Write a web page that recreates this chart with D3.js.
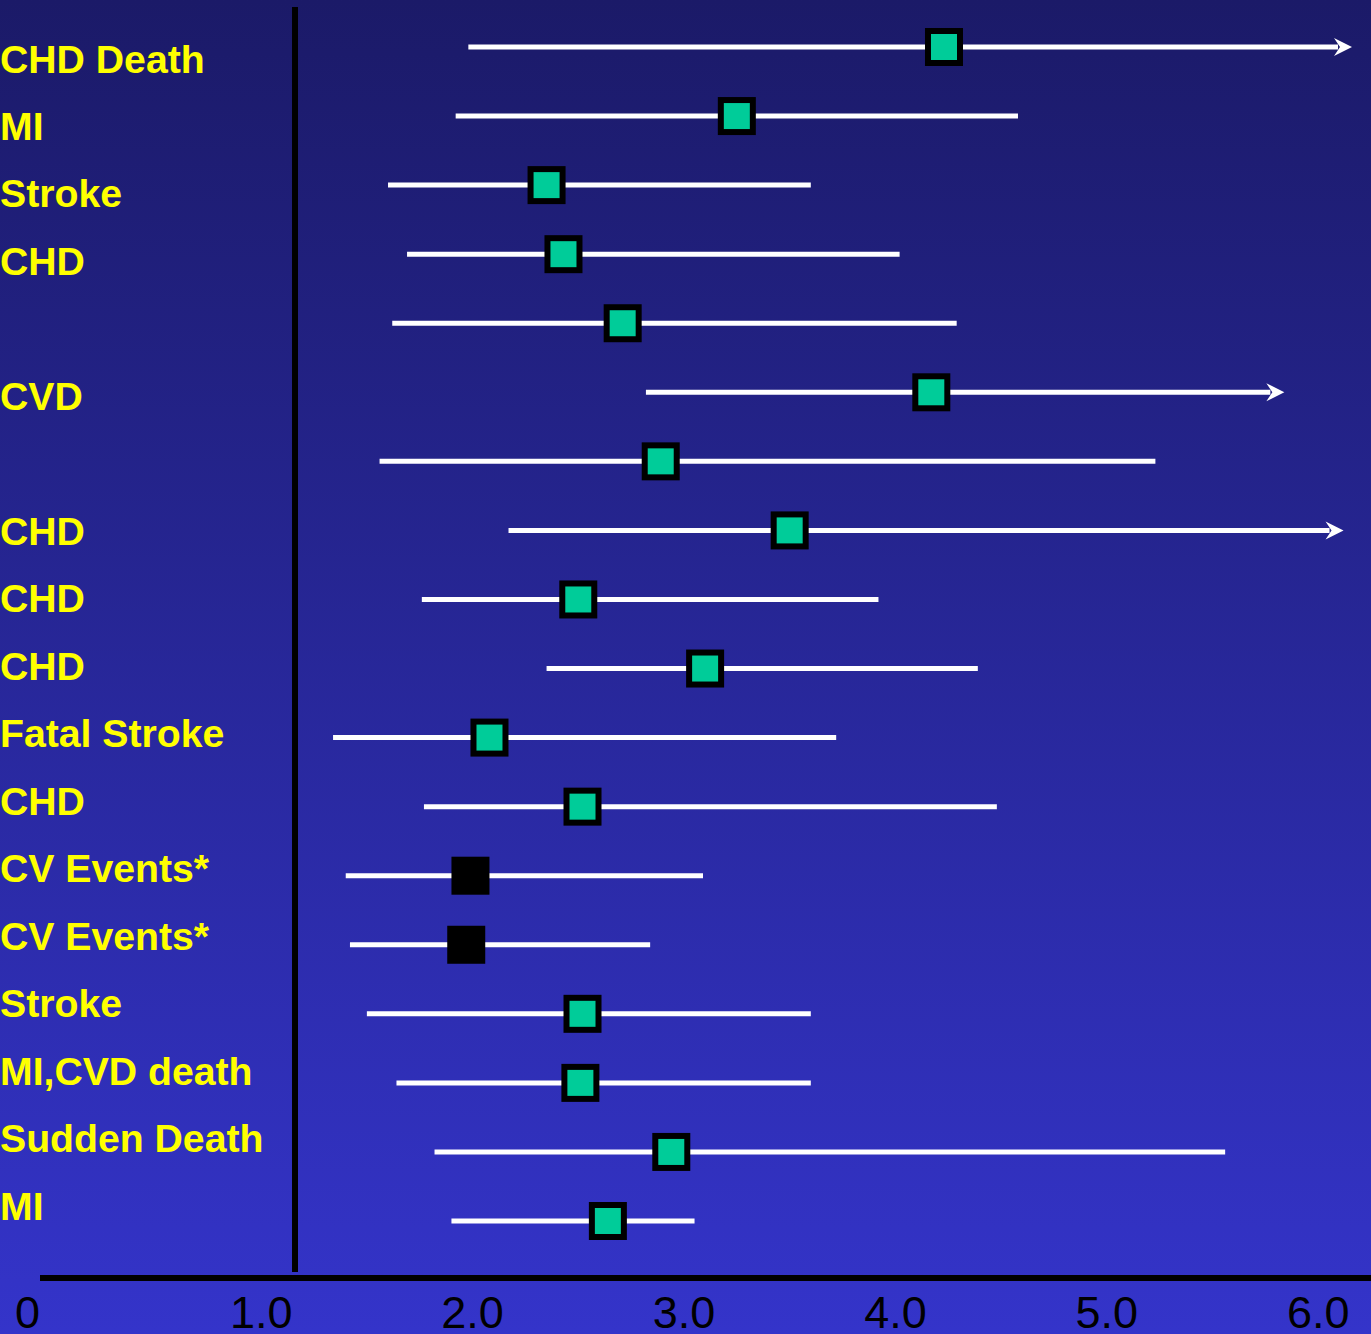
<!DOCTYPE html>
<html>
<head>
<meta charset="utf-8">
<script src="https://cdn.jsdelivr.net/npm/d3@7"></script>
<style>
  html, body { margin: 0; padding: 0; background: #26258f; }
  svg { display: block; }
</style>
</head>
<body>
<svg id="chart" width="1371" height="1334"></svg>
<script>
// ---- Data ----
const outcomeLabels = ["CHD Death", "MI", "Stroke", "CHD", "", "CVD", "", "CHD", "CHD", "CHD",
  "Fatal Stroke", "CHD", "CV Events*", "CV Events*", "Stroke", "MI,CVD death", "Sudden Death", "MI"];
const estimates = [4.07, 3.09, 2.19, 2.27, 2.55, 4.01, 2.73, 3.34, 2.34, 2.94, 1.92, 2.36, 1.83, 1.81, 2.36, 2.35, 2.78, 2.48];
const lowerCI   = [1.82, 1.76, 1.44, 1.53, 1.46, 2.66, 1.40, 2.01, 1.60, 2.19, 1.18, 1.61, 1.24, 1.26, 1.34, 1.48, 1.66, 1.74];
const upperCI   = [6.00, 4.42, 3.44, 3.86, 4.13, 5.68, 5.07, 5.96, 3.76, 4.23, 3.56, 4.32, 2.93, 2.68, 3.44, 3.44, 5.40, 2.89];
const openEnded = [true, false, false, false, false, true, false, true, false, false, false, false, false, false, false, false, false, false];
const markerKind = ["study", "study", "study", "study", "study", "study", "study", "study", "study", "study",
  "study", "study", "pooled", "pooled", "study", "study", "study", "study"];
const tickValues = [1, 2, 3, 4, 5, 6];
const tickLabels = ["1.0", "2.0", "3.0", "4.0", "5.0", "6.0"];
const originLabel = "0";

// ---- Drawing ----
const W = 1371, H = 1334;
const svg = d3.select("#chart");

const defs = svg.append("defs");
const grad = defs.append("linearGradient").attr("id", "bg").attr("x1", 0).attr("y1", 0).attr("x2", 0).attr("y2", 1);
grad.append("stop").attr("offset", "0%").attr("stop-color", "#1b1a68");
grad.append("stop").attr("offset", "100%").attr("stop-color", "#3434ca");
svg.append("rect").attr("width", W).attr("height", H).attr("fill", "url(#bg)");

const rows = estimates.map((e, i) => ({
  i, est: e, lo: lowerCI[i], hi: upperCI[i], open: openEnded[i], kind: markerKind[i]
}));

const x = d3.scaleLinear().domain([1, 6]).range([295, 1352]);
const yRow = d3.scalePoint().domain(d3.range(rows.length)).range([47, 1221]);
const yLab = d3.scalePoint().domain(d3.range(outcomeLabels.length)).range([58, 1205]);

// Reference line at 1.0
svg.append("line")
  .attr("x1", x(1)).attr("x2", x(1))
  .attr("y1", 7).attr("y2", 1272)
  .attr("stroke", "#000").attr("stroke-width", 6);

// Axis line
const axisY = 1278;
svg.append("line")
  .attr("x1", 40).attr("x2", W)
  .attr("y1", axisY).attr("y2", axisY)
  .attr("stroke", "#000").attr("stroke-width", 6);

// Axis tick labels via d3 axis
const axis = d3.axisBottom(x)
  .tickValues(tickValues)
  .tickFormat((d, i) => tickLabels[i])
  .tickSize(0)
  .tickPadding(0);
const gAxis = svg.append("g").attr("transform", `translate(0,${axisY})`).call(axis);
gAxis.select(".domain").remove();
gAxis.selectAll("text")
  .attr("x", -3)
  .attr("y", 50)
  .attr("dy", null)
  .attr("text-anchor", "end")
  .attr("fill", "#000")
  .style("font-family", "Liberation Sans, Arial, sans-serif")
  .style("font-size", "45px");
svg.append("text")
  .attr("x", 40).attr("y", axisY + 50)
  .attr("text-anchor", "end")
  .attr("fill", "#000")
  .style("font-family", "Liberation Sans, Arial, sans-serif")
  .style("font-size", "45px")
  .text(originLabel);

// Outcome labels
svg.append("g").selectAll("text")
  .data(outcomeLabels)
  .join("text")
  .attr("x", 0)
  .attr("y", (d, i) => yLab(i))
  .attr("dy", "0.37em")
  .attr("fill", "#ffff00")
  .style("font-family", "Liberation Sans, Arial, sans-serif")
  .style("font-weight", "bold")
  .style("font-size", "39.2px")
  .text(d => d);

// CI lines
const gRows = svg.append("g");
const arrowLen = 18, arrowHalf = 9;
gRows.selectAll("line.ci")
  .data(rows)
  .join("line")
  .attr("class", "ci")
  .attr("x1", d => x(d.lo))
  .attr("x2", d => d.open ? x(d.hi) - arrowLen + 4 : x(d.hi))
  .attr("y1", d => yRow(d.i))
  .attr("y2", d => yRow(d.i))
  .attr("stroke", "#fff")
  .attr("stroke-width", 5);

// Arrowheads for open-ended intervals
gRows.selectAll("path.arrow")
  .data(rows.filter(d => d.open))
  .join("path")
  .attr("class", "arrow")
  .attr("d", d => {
    const tx = x(d.hi), ty = yRow(d.i);
    return `M${tx},${ty} L${tx - arrowLen},${ty - arrowHalf} L${tx - arrowLen + 6},${ty} L${tx - arrowLen},${ty + arrowHalf} Z`;
  })
  .attr("fill", "#fff");

// Markers
gRows.selectAll("rect.mk")
  .data(rows)
  .join("rect")
  .attr("class", "mk")
  .attr("x", d => x(d.est) - (d.kind === "pooled" ? 19 : 16))
  .attr("y", d => yRow(d.i) - (d.kind === "pooled" ? 19 : 16))
  .attr("width", d => d.kind === "pooled" ? 38 : 32)
  .attr("height", d => d.kind === "pooled" ? 38 : 32)
  .attr("fill", d => d.kind === "pooled" ? "#000" : "#00cc99")
  .attr("stroke", d => d.kind === "pooled" ? "none" : "#000")
  .attr("stroke-width", 6);
</script>
</body>
</html>
